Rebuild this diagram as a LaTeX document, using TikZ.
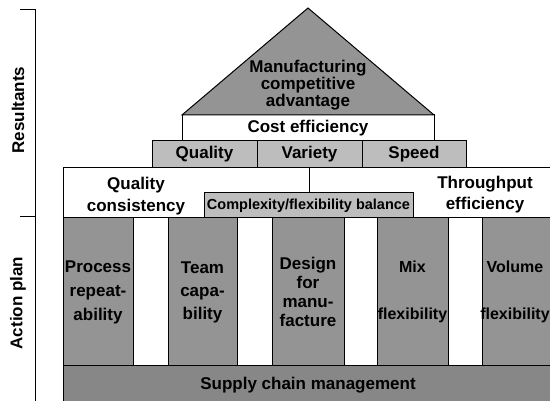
\documentclass[tikz,border=0pt]{standalone}
\usepackage{fontspec}
\setmainfont{Liberation Sans}
\begin{document}
\begin{tikzpicture}[x=1pt,y=-1pt,
  frame/.style={draw=black,line width=1pt,inner sep=0pt,outer sep=0pt,anchor=north west,align=center,font=\fontsize{17}{17}\selectfont\bfseries},
  lab/.style={font=\fontsize{17}{17}\selectfont\bfseries,align=center,inner sep=0pt},
  dark/.style={fill=black!42},
  light/.style={fill=black!26},
  pillar/.style={frame,dark,minimum height=148pt},
]
\useasboundingbox (0,0) rectangle (550,401);
\fill[white] (0,0) rectangle (550,401);
\clip (0,0) rectangle (550,401);

% side bracket
\coordinate (bt) at (35,10);
\coordinate (bm) at (35,217);
\coordinate (bb) at (35,405);
\draw[line width=1pt] (20,10) -- (bt) -- (bb);
\draw[line width=1pt] (20,217) -- (bm);
\node[lab,rotate=90,font=\fontsize{17}{17}\selectfont\bfseries] (res) at (18,110) {Resultants};
\node[lab,rotate=90,font=\fontsize{17}{17}\selectfont\bfseries] (act) at (18,303) {Action plan};

% middle white band
\node[frame,fill=white,minimum width=500pt,minimum height=50pt] (mid) at (63,168) {};
\node[lab,font=\fontsize{17}{22}\selectfont\bfseries] (qc) at (136,196) {Quality\\consistency};
\node[lab,font=\fontsize{17}{21}\selectfont\bfseries] (te) at (485,195) {Throughput\\efficiency};

% quality / variety / speed
\node[frame,light,minimum width=105pt,minimum height=27pt] (quality) at (152,141) {Quality};
\node[frame,light,minimum width=105pt,minimum height=27pt] (variety) at (257,141) {Variety};
\node[frame,light,minimum width=104pt,minimum height=27pt] (speed) at (362,141) {Speed};

% complexity box
\node[frame,light,minimum width=209pt,minimum height=25pt,font=\fontsize{14.5}{14.5}\selectfont\bfseries] (cplx) at (204,193) {Complexity/flexibility balance};
\draw[line width=1pt] (variety.south) -- (variety.south |- cplx.north);

% cost efficiency
\node[frame,fill=white,minimum width=252pt,minimum height=26pt] (cost) at (182,115) {Cost efficiency};

% roof
\coordinate (apex) at (308,8);
\draw[dark,line width=1pt] (apex) -- (cost.north east) -- (cost.north west) -- cycle;
\node[lab,font=\fontsize{17}{14.5}\selectfont\bfseries] (roof) at (308,85) {Manufacturing\\competitive\\advantage};

% pillars
\node[pillar,minimum width=70pt,font=\fontsize{17}{24}\selectfont\bfseries] (p1) at (63,218) {Process\\repeat-\\ability};
\node[pillar,minimum width=69pt,font=\fontsize{17}{23}\selectfont\bfseries] (p2) at (168,218) {Team\\capa-\\bility};
\node[pillar,minimum width=72pt,font=\fontsize{17}{19}\selectfont\bfseries] (p3) at (272,218) {Design\\for\\manu-\\facture};
\node[pillar,minimum width=71pt,font=\fontsize{16}{23.5}\selectfont\bfseries] (p4) at (377,218) {Mix\\[23.5pt]flexibility};
\node[pillar,minimum width=90pt] (p5) at (482,218) {};
\node[lab,font=\fontsize{16}{23.5}\selectfont\bfseries] (p5t) at (515,292) {Volume\\[23.5pt]flexibility};

% supply chain
\node[frame,fill=black!47,minimum width=500pt,minimum height=45pt] (scm) at (63,366) {};
\node[lab] (scmt) at (308,385) {Supply chain management};
\end{tikzpicture}
\end{document}
